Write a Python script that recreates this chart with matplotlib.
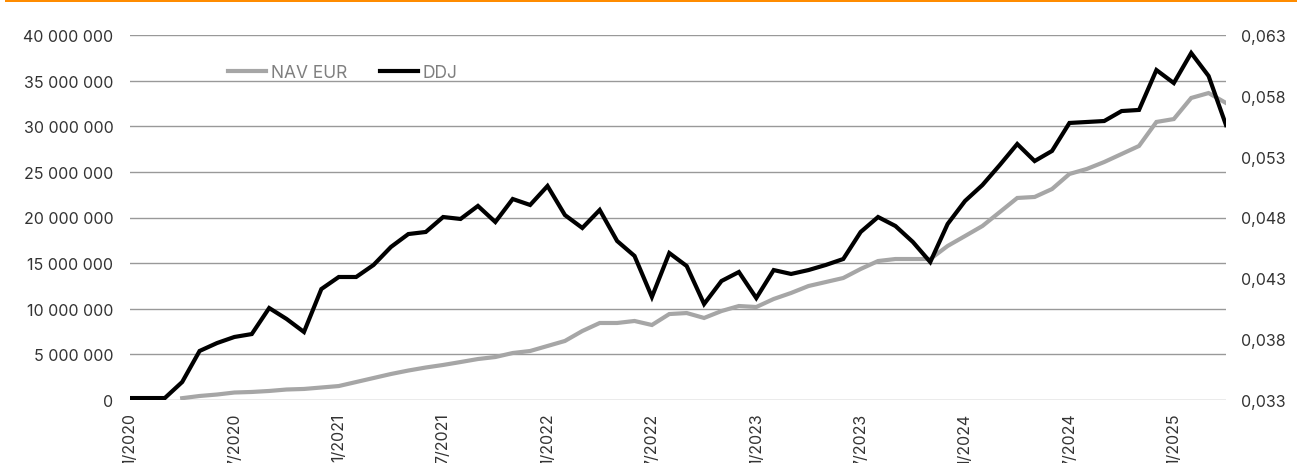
import numpy as np
import pandas as pd
import matplotlib
matplotlib.use("Agg")
import matplotlib.pyplot as plt
from matplotlib.ticker import FuncFormatter
from matplotlib.patches import Rectangle

plt.rcParams['font.family'] = ['Inter', 'DejaVu Sans']

months = pd.date_range("2020-01-01", periods=64, freq="MS")
month_labels = [f"{d.month}/{d.year}" for d in months]

# NAV EUR (left axis), starts in 4/2020
nav_eur = [np.nan, np.nan, np.nan,
           0.20e6, 0.44e6, 0.60e6, 0.82e6, 0.88e6, 0.99e6, 1.15e6, 1.21e6, 1.37e6,
           1.53e6, 1.97e6, 2.41e6, 2.85e6, 3.23e6, 3.56e6, 3.84e6, 4.16e6, 4.49e6,
           4.71e6, 5.15e6, 5.37e6, 5.92e6, 6.47e6, 7.56e6, 8.44e6, 8.44e6, 8.66e6,
           8.22e6, 9.42e6, 9.53e6, 8.99e6, 9.75e6, 10.30e6, 10.19e6, 11.07e6, 11.73e6,
           12.49e6, 12.93e6, 13.37e6, 14.36e6, 15.23e6, 15.45e6, 15.45e6, 15.45e6,
           16.88e6, 17.97e6, 19.07e6, 20.60e6, 22.14e6, 22.25e6, 23.12e6, 24.77e6,
           25.32e6, 26.08e6, 26.96e6, 27.84e6, 30.47e6, 30.79e6, 33.10e6, 33.64e6,
           32.55e6]

# DDJ (right axis)
ddj = [0.03316, 0.03316, 0.03316, 0.03448, 0.03703, 0.03768, 0.03818, 0.03842,
       0.04056, 0.03966, 0.03859, 0.04212, 0.04311, 0.04311, 0.04410, 0.04558,
       0.04664, 0.04681, 0.04804, 0.04788, 0.04895, 0.04763, 0.04952, 0.04903,
       0.05059, 0.04820, 0.04714, 0.04862, 0.04607, 0.04484, 0.04147, 0.04508,
       0.04401, 0.04089, 0.04278, 0.04352, 0.04138, 0.04368, 0.04336, 0.04368,
       0.04410, 0.04459, 0.04681, 0.04804, 0.04730, 0.04599, 0.04434, 0.04747,
       0.04936, 0.05067, 0.05232, 0.05404, 0.05264, 0.05347, 0.05577, 0.05585,
       0.05593, 0.05675, 0.05684, 0.06012, 0.05905, 0.06152, 0.05963, 0.05560]

left_ticks = np.arange(0, 40_000_001, 5_000_000)
right_ticks = [0.033, 0.038, 0.043, 0.048, 0.053, 0.058, 0.063]

text_col = "#333333"
fs = 11.5

fig = plt.figure(figsize=(12.97, 4.64), dpi=100)
ax = fig.add_axes([130 / 1297, 1 - 401 / 464, (1226 - 130) / 1297, (401 - 36) / 464])
ax2 = ax.twinx()

x = np.arange(len(months))
ax.plot(x, nav_eur, color="#A6A6A6", lw=3, solid_joinstyle="miter", label="NAV EUR")
ax2.plot(x, ddj, color="black", lw=3, solid_joinstyle="miter", label="DDJ")

ax.set_xlim(0, len(months) - 1)
ax.set_ylim(0, 40_000_000)
ax.set_yticks(left_ticks)
ax.yaxis.set_major_formatter(FuncFormatter(lambda v, p: f"{int(v):,}".replace(",", " ")))
ax2.set_ylim(0.033, 0.063)
ax2.set_yticks(right_ticks)
ax2.yaxis.set_major_formatter(FuncFormatter(lambda v, p: f"{v:.3f}".replace(".", ",")))

tick_pos = x[::6]
ax.set_xticks(tick_pos)
ax.set_xticklabels([month_labels[i] for i in tick_pos], rotation=90, va="top")

ax.grid(axis="y", color="#999999", lw=1)
ax.set_axisbelow(True)
for a in (ax, ax2):
    for s in a.spines.values():
        s.set_visible(False)
    a.tick_params(length=0, labelsize=fs, labelcolor=text_col)
ax.tick_params(axis="y", pad=12)
ax2.tick_params(axis="y", pad=11)
ax.tick_params(axis="x", pad=9)

h1, l1 = ax.get_legend_handles_labels()
h2, l2 = ax2.get_legend_handles_labels()
leg = ax2.legend(h1 + h2, l1 + l2, ncol=2, frameon=False, fontsize=12.5,
                 loc="center left", bbox_to_anchor=(98 / 1096, 1 - 38 / 365),
                 handlelength=2.2, handletextpad=0.25, columnspacing=1.9,
                 borderaxespad=0, borderpad=0)
for t in leg.get_texts():
    t.set_color("#7F7F7F")

fig.add_artist(Rectangle((5 / 1297, 1 - 3 / 464), 1, 3 / 464, transform=fig.transFigure,
                         color="#FF8C00", lw=0))

fig.savefig("out.png", dpi=100)
